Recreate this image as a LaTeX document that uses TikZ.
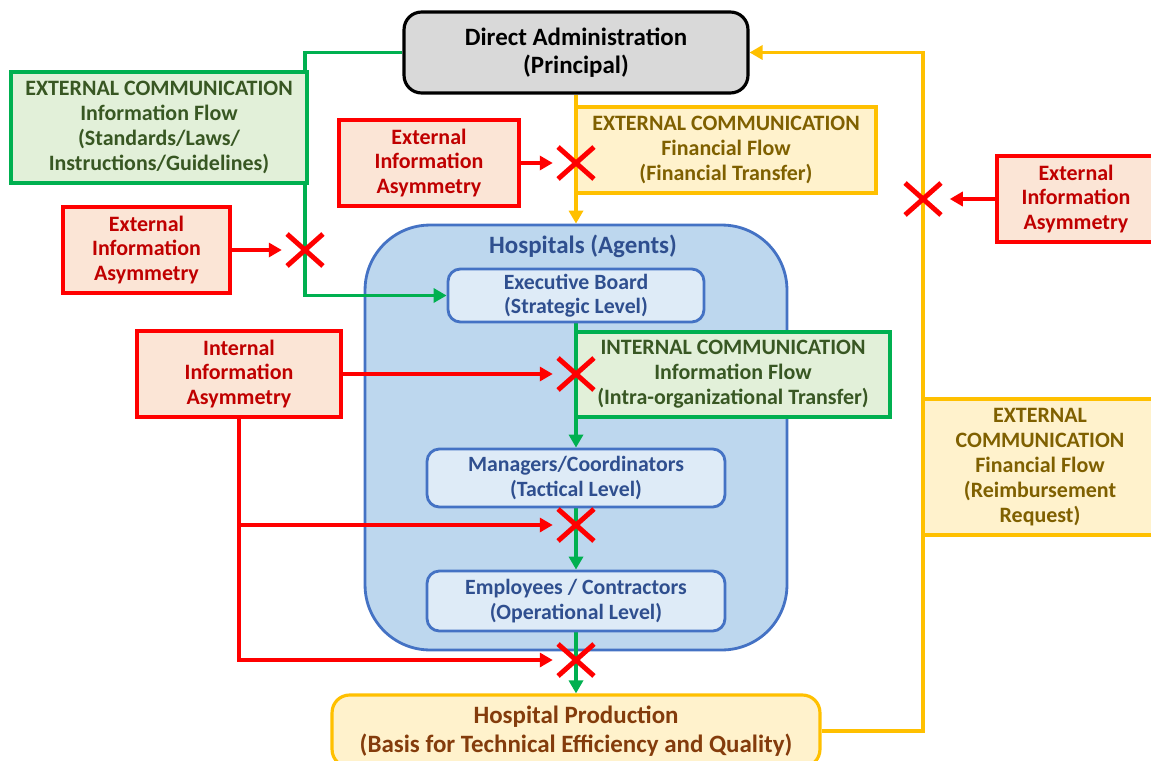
\documentclass[tikz,border=0pt]{standalone}
\usepackage{fontspec}
\setmainfont{Carlito}
\usetikzlibrary{arrows.meta}
\usetikzlibrary{shapes.misc}
\usetikzlibrary{backgrounds}

\definecolor{RedLine}{HTML}{FF0000}
\definecolor{RedFill}{HTML}{FBE5D6}
\definecolor{RedText}{HTML}{C00000}
\definecolor{GreenLine}{HTML}{00B050}
\definecolor{GreenFill}{HTML}{E2F0D9}
\definecolor{GreenText}{HTML}{385723}
\definecolor{GoldLine}{HTML}{FFC000}
\definecolor{GoldFill}{HTML}{FFF2CC}
\definecolor{GoldText}{HTML}{7F6000}
\definecolor{ProdText}{HTML}{843C0C}
\definecolor{BlueLine}{HTML}{4472C4}
\definecolor{HospFill}{HTML}{BDD7EE}
\definecolor{LevelFill}{HTML}{DEEBF7}
\definecolor{BlueText}{HTML}{2F4F8F}
\definecolor{AdminFill}{HTML}{D9D9D9}

\begin{document}
\begin{tikzpicture}[x=0.02cm,y=-0.02cm,
    txt/.style={font=\bfseries\fontsize{12.5}{14.2}\selectfont,align=center,inner sep=0pt},
    boxline/.style={line width=1.8pt},
    asym/.style={txt,boxline,draw=RedLine,fill=RedFill,text=RedText,minimum height=1.72cm},
    infobox/.style={txt,boxline,draw=GreenLine,fill=GreenFill,text=GreenText},
    moneybox/.style={txt,boxline,draw=GoldLine,fill=GoldFill,text=GoldText},
    level/.style={txt,font=\bfseries\fontsize{12.4}{13.8}\selectfont,line width=1.6pt,draw=BlueLine,fill=LevelFill,text=BlueText,rounded corners=7pt,minimum width=5.96cm},
    blocked/.style={cross out,draw=RedLine,line width=2.8pt,minimum width=0.62cm,minimum height=0.54cm,inner sep=0pt},
    flowarrow/.style={line width=2.2pt,-{Triangle[length=2.6mm,width=2.8mm]}},
    ]
    \useasboundingbox (0,0) rectangle (1151,760);

    % principal and external flows
    \node[txt,boxline,draw=black,fill=AdminFill,rounded corners=10pt,minimum width=6.88cm,minimum height=1.62cm,font=\bfseries\fontsize{14.2}{15.9}\selectfont] (admin) at (576,52.5) {Direct Administration\\(Principal)};
    \node[infobox,minimum width=5.92cm,minimum height=2.22cm] (extinfo) at (159,127.5) {EXTERNAL COMMUNICATION\\Information Flow\\(Standards/Laws/\\Instructions/Guidelines)};
    \node[asym,minimum width=3.34cm] (asymA) at (146.5,250) {External\\Information\\Asymmetry};
    \node[asym,minimum width=3.6cm] (asymB) at (429,163) {External\\Information\\Asymmetry};
    \node[moneybox,minimum width=6cm,minimum height=1.72cm] (fintransfer) at (726,150) {EXTERNAL COMMUNICATION\\Financial Flow\\(Financial Transfer)};
    \node[asym,minimum width=3.16cm] (asymC) at (1076,199) {External\\Information\\Asymmetry};
    \node[moneybox,minimum width=4.68cm,minimum height=2.72cm] (reimbursement) at (1040,467) {EXTERNAL\\COMMUNICATION\\Financial Flow\\(Reimbursement\\Request)};

    % hospital levels
    \node[txt,text=BlueText,font=\bfseries\fontsize{14.2}{15}\selectfont] (title) at (583,246) {Hospitals (Agents)};
    \node[level,minimum width=5.12cm,minimum height=1.06cm] (board) at (576,295.5) {Executive Board\\(Strategic Level)};
    \node[infobox,minimum width=6.28cm,minimum height=1.7cm] (intcomm) at (733,374.5) {INTERNAL COMMUNICATION\\Information Flow\\(Intra-organizational Transfer)};
    \node[asym,minimum width=4.08cm] (asymI) at (239,374) {Internal\\Information\\Asymmetry};
    \node[level,minimum height=1.16cm] (managers) at (576,478) {Managers/Coordinators\\(Tactical Level)};
    \node[level,minimum height=1.2cm] (employees) at (576,601) {Employees / Contractors\\(Operational Level)};
    \node[txt,boxline,draw=GoldLine,fill=GoldFill,text=ProdText,rounded corners=10pt,minimum width=9.76cm,minimum height=1.44cm,font=\bfseries\fontsize{14.2}{16.4}\selectfont] (production) at (576,731) {Hospital Production\\(Basis for Technical Efficiency and Quality)};

    % blocked points
    \node[blocked] (xA) at (305,250) {};
    \node[blocked] (xB) at (576,163) {};
    \node[blocked] (xC) at (923,199) {};
    \node[blocked] (xD) at (576,374) {};
    \node[blocked] (xE) at (576,525) {};
    \node[blocked] (xF) at (576,660) {};

    \begin{pgfonlayer}{background}
        \node[draw=BlueLine,fill=HospFill,line width=1.6pt,rounded corners=1.3cm,minimum width=8.44cm,minimum height=8.5cm] (hospitals) at (576,437.5) {};
        \draw[flowarrow,GreenLine] (admin.west) -| (xA.center) |- (board.west);
        \draw[flowarrow,GoldLine] (admin.south) -- (hospitals.north);
        \draw[flowarrow,GoldLine] (production.east) -| (xC.center) |- (admin.east);
        \draw[flowarrow,GreenLine] (board.south) -- (managers.north);
        \draw[flowarrow,GreenLine] (managers.south) -- (employees.north);
        \draw[flowarrow,GreenLine] (employees.south) -- (production.north);
        \draw[flowarrow,RedLine,shorten >=3pt] (asymA) -- (xA);
        \draw[flowarrow,RedLine,shorten >=3pt] (asymB) -- (xB);
        \draw[flowarrow,RedLine,shorten >=5pt] (asymC) -- (xC);
        \draw[flowarrow,RedLine,shorten >=3pt] (asymI) -- (xD);
        \draw[flowarrow,RedLine,shorten >=3pt] (asymI.south) |- (xF);
        \coordinate (fork) at (asymI.south |- xE);
        \draw[flowarrow,RedLine,shorten >=3pt] (fork) -- (xE);
    \end{pgfonlayer}
\end{tikzpicture}
\end{document}
